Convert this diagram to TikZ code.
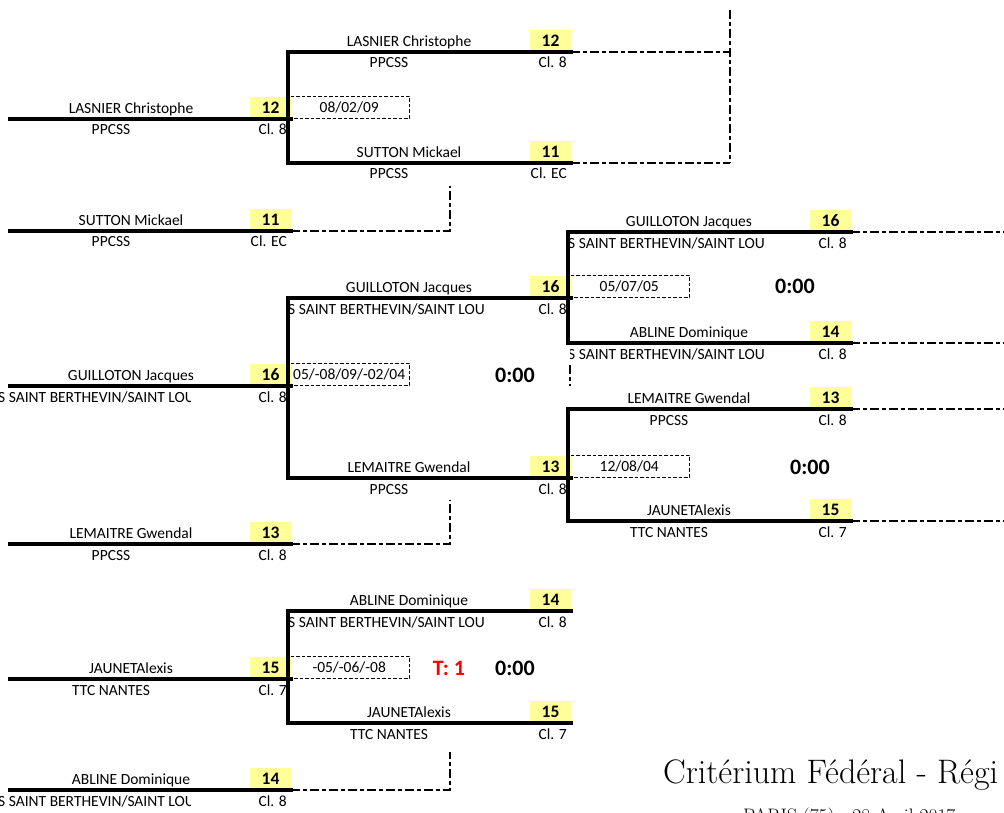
\documentclass[tikz,border=0pt]{standalone}
\usepackage{fontspec}
\usepackage{tikz}
\usetikzlibrary{calc}
\newfontfamily\cellfont{Carlito}

\definecolor{seedyellow}{RGB}{255,255,153}
\definecolor{tiered}{RGB}{255,0,0}

\tikzset{
    bracket/.style={line width=3.3pt, line cap=rect},
    link/.style={line width=2pt, dash pattern=on 9pt off 3pt on 4pt off 3pt},
    pname/.style={anchor=base, inner sep=0pt, font=\cellfont\fontsize{15.5}{17}\selectfont},
    club/.style={pname},
    cls/.style={pname, anchor=base east},
    seed/.style={anchor=base, inner sep=0pt, font=\cellfont\bfseries\fontsize{17.5}{19}\selectfont},
    datebox/.style={draw, line width=1.4pt, dash pattern=on 3.5pt off 2pt, anchor=south west,
        minimum width=121pt, minimum height=22pt, inner sep=0pt,
        font=\cellfont\fontsize{15.5}{17}\selectfont},
    score/.style={anchor=base, inner sep=0pt, font=\cellfont\bfseries\fontsize{22}{24}\selectfont},
}

% One player cell: #1 id, #2 left x, #3 right x, #4 line y,
% #5 player, #6 club, #7 seed, #8 class
\newcommand{\playerslot}[8]{
    \coordinate (#1-w) at (#2, #4);
    \coordinate (#1-e) at (#3, #4);
    \fill[seedyellow] (#3-41, #4-1.5) rectangle (#3, #4-22);
    \draw[bracket] (#1-w) -- (#1-e);
    \node (#1-name) at (#2+121, #4-5.5) [pname] {#5};
    \node (#1-club) at (#2+101, #4+16) [club] {#6};
    \node (#1-seed) at (#3-20.5, #4-5.5) [seed] {#7};
    \node (#1-cl) at (#3-4, #4+16) [cls] {#8};
}

% Club name that runs out of its cell: #1 id, #2 left x, #3 right x, #4 line y
\newcommand{\clubcut}[4]{
    \begin{scope}
        \clip (#2, #4+2) rectangle (#3, #4+24);
        \node (#1-cut) at (#2-2, #4+16) [club, anchor=base west] {S SAINT BERTHEVIN/SAINT LOU};
    \end{scope}
}

\begin{document}
\begin{tikzpicture}[x=1pt, y=-1pt]

    \useasboundingbox (0, 0) rectangle (1004, 813);
    \clip (0, 0) rectangle (1004, 813);

    % Free ends of the dashed links to the next rounds
    \begin{scope}
        \coordinate (sf) at (730, 10);
        \coordinate (q1) at (450, 186);
        \coordinate (q2) at (450, 500);
        \coordinate (q3) at (450, 752);
        \coordinate (q4) at (570, 365);
        \coordinate (edge) at (1004, 0);
    \end{scope}

    % First column
    \playerslot{c1a}{10}{291}{119}{LASNIER Christophe}{PPCSS}{12}{Cl. 8}
    \playerslot{c1b}{10}{291}{231}{SUTTON Mickael}{PPCSS}{11}{Cl. EC}
    \playerslot{c1c}{10}{291}{386}{GUILLOTON Jacques}{}{16}{Cl. 8}
    \playerslot{c1d}{10}{291}{544}{LEMAITRE Gwendal}{PPCSS}{13}{Cl. 8}
    \playerslot{c1e}{10}{291}{679}{JAUNETAlexis}{TTC NANTES}{15}{Cl. 7}
    \playerslot{c1f}{10}{291}{790}{ABLINE Dominique}{}{14}{Cl. 8}
    \clubcut{c1c}{0}{190}{386}
    \clubcut{c1f}{0}{190}{790}

    % Second column
    \playerslot{c2a}{288}{571}{52}{LASNIER Christophe}{PPCSS}{12}{Cl. 8}
    \playerslot{c2b}{288}{571}{163}{SUTTON Mickael}{PPCSS}{11}{Cl. EC}
    \playerslot{c2c}{288}{571}{298}{GUILLOTON Jacques}{}{16}{Cl. 8}
    \playerslot{c2d}{288}{571}{478}{LEMAITRE Gwendal}{PPCSS}{13}{Cl. 8}
    \playerslot{c2e}{288}{571}{611}{ABLINE Dominique}{}{14}{Cl. 8}
    \playerslot{c2f}{288}{571}{723}{JAUNETAlexis}{TTC NANTES}{15}{Cl. 7}
    \clubcut{c2c}{290}{483}{298}
    \clubcut{c2e}{290}{483}{611}

    % Third column
    \playerslot{c3a}{568}{851}{232}{GUILLOTON Jacques}{}{16}{Cl. 8}
    \playerslot{c3b}{568}{851}{343}{ABLINE Dominique}{}{14}{Cl. 8}
    \playerslot{c3c}{568}{851}{409}{LEMAITRE Gwendal}{PPCSS}{13}{Cl. 8}
    \playerslot{c3d}{568}{851}{521}{JAUNETAlexis}{TTC NANTES}{15}{Cl. 7}
    \clubcut{c3a}{570}{763}{232}
    \clubcut{c3b}{570}{763}{343}

    % Brackets joining the two players of each match
    \begin{scope}[bracket]
        \draw (c2a-w) -- (c2b-w);
        \draw (c2c-w) -- (c2d-w);
        \draw (c2e-w) -- (c2f-w);
        \draw (c3a-w) -- (c3b-w);
        \draw (c3c-w) -- (c3d-w);
    \end{scope}

    \begin{scope}[link]
        \draw (c2a-e) -- (c2a-e -| sf);
        \draw (c2b-e) -- (c2b-e -| sf);
        \draw (sf) -- (sf |- c2b-e);
        \draw (c1b-e) -- (c1b-e -| q1) -- (q1);
        \draw (c1d-e) -- (c1d-e -| q2) -- (q2);
        \draw (c1f-e) -- (c1f-e -| q3) -- (q3);
        \draw (q4) -- (q4 |- c1c-e);
        \foreach \p in {c3a, c3b, c3c, c3d}
            \draw (\p-e) -- (\p-e -| edge);
    \end{scope}

    % Dates and scores of each match
    \node (d1) at (c2a-w |- c1a-e) [datebox] {08/02/09};
    \node (d2) at (c2c-w |- c1c-e) [datebox] {05/-08/09/-02/04};
    \node (d3) at (c2e-w |- c1e-e) [datebox] {-05/-06/-08};
    \node (d4) at (c3a-w |- c2c-e) [datebox] {05/07/05};
    \node (d5) at (c3c-w |- c2d-e) [datebox] {12/08/04};

    \node (s2) at (515, 382) [score] {0:00};
    \node (s3) at (515, 675) [score] {0:00};
    \node (s4) at (795, 293) [score] {0:00};
    \node (s5) at (810, 474) [score] {0:00};
    \node (tie) at (449, 675) [score, text=tiered] {T: 1};

    % Title of the sheet, cut by the page edge
    \node (title) at (663, 783) [anchor=base west, inner sep=0pt, font=\fontsize{34}{38}\selectfont] {Critérium Fédéral - Régi};
    \node (place) at (743, 822) [anchor=base west, inner sep=0pt, font=\fontsize{19.5}{22}\selectfont] {PARIS (75) - 28 Avril 2017};

\end{tikzpicture}
\end{document}
